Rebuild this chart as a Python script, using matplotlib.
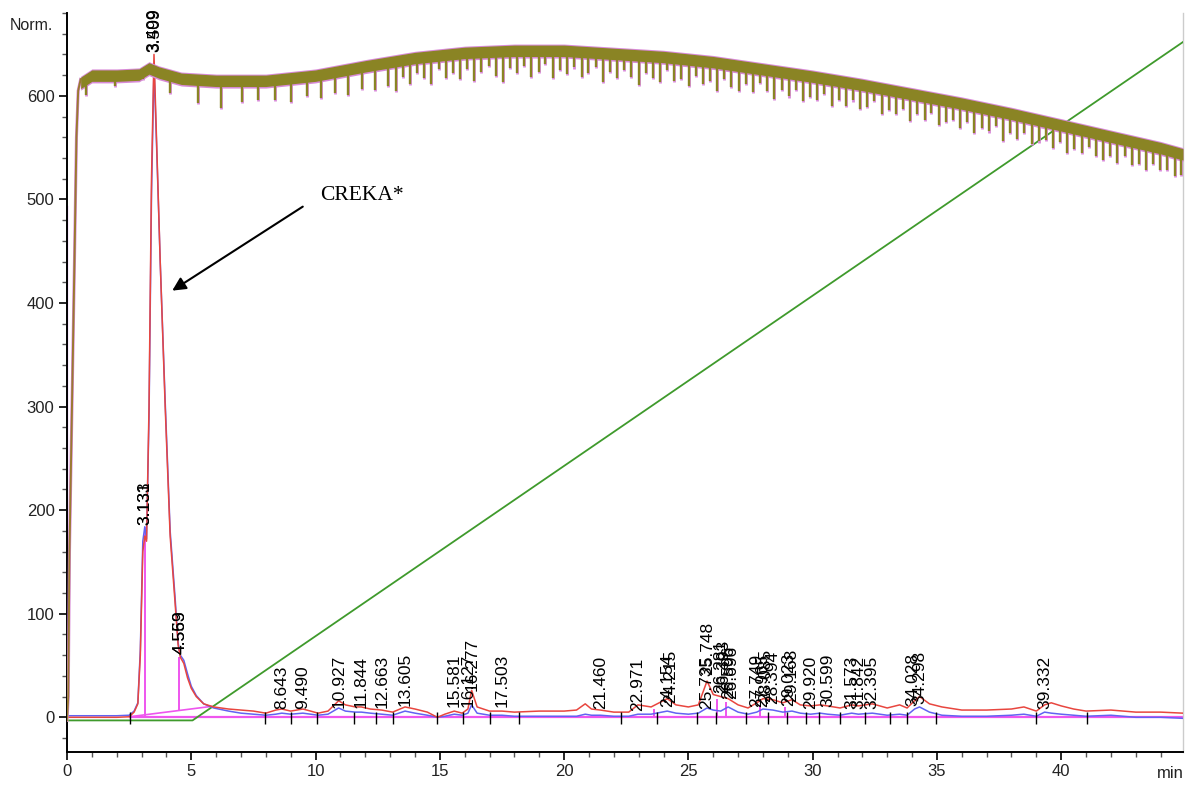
import numpy as np
import matplotlib
matplotlib.use("Agg")
import matplotlib.pyplot as plt
from matplotlib.ticker import MultipleLocator

# ---------------- data ----------------
signal_time = [0.0, 1.0, 2.0, 2.5, 2.7, 2.85, 2.95, 3.05, 3.13, 3.2,
               3.3, 3.4, 3.5, 3.6, 3.75, 3.95, 4.15, 4.35, 4.47, 4.56,
               4.7, 4.85, 5.0, 5.2, 5.5, 5.9, 6.5, 7.0, 7.5, 8.0,
               8.4, 8.64, 9.0, 9.49, 9.8, 10.1, 10.5, 10.93, 11.2, 11.6,
               11.84, 12.2, 12.66, 13.1, 13.6, 14.0, 14.5, 14.9, 15.2, 15.58,
               15.9, 16.13, 16.28, 16.5, 17.0, 17.5, 18.0, 19.0, 20.0, 20.5,
               20.85, 21.1, 21.46, 22.0, 22.6, 22.97, 23.5, 24.15, 24.5, 25.0,
               25.4, 25.75, 26.0, 26.3, 26.6, 27.0, 27.4, 27.75, 28.0, 28.4,
               28.8, 29.17, 29.5, 29.92, 30.3, 30.6, 31.1, 31.57, 31.84, 32.4,
               33.0, 33.5, 33.8, 34.1, 34.3, 34.7, 35.2, 36.0, 37.0, 38.0,
               38.5, 39.0, 39.33, 39.6, 40.0, 40.5, 41.0, 42.0, 43.0, 44.0,
               44.9]
red_signal = [0, 0, 0, 0.5, 5, 13, 60, 160, 175, 170,
              300, 520, 640, 560, 440, 300, 175, 110, 70, 58,
              52, 38, 28, 20, 13, 10, 8, 7, 6, 4,
              7, 8, 6, 8, 6, 4, 6, 16, 12, 10,
              10, 8, 7, 5, 10, 8, 5, 0, 3, 6,
              4, 8, 26, 10, 6, 6, 5, 6, 6, 7,
              13, 8, 7, 5, 5, 12, 10, 18, 12, 10,
              12, 35, 22, 20, 18, 12, 9, 14, 18, 17,
              14, 17, 12, 11, 12, 11, 9, 12, 11, 13,
              9, 12, 9, 16, 20, 13, 10, 7, 7, 8,
              10, 6, 12, 14, 11, 8, 6, 7, 5, 5,
              4]
blue_signal = [1.5, 1.5, 1.5, 2, 6, 14, 65, 170, 184, 172,
               290, 505, 628, 555, 440, 305, 180, 115, 72, 60,
               55, 42, 30, 21, 13, 9, 6, 4, 3, 2,
               3, 4, 3, 4, 3, 2, 3, 9, 6, 5,
               5, 4, 3, 2, 6, 4, 2, 0, 1, 3,
               2, 4, 12, 4, 2, 2, 1, 1, 1, 1,
               3, 2, 2, 1, 1, 3, 3, 6, 4, 3,
               4, 9, 7, 6, 10, 5, 3, 5, 8, 7,
               5, 6, 4, 3, 4, 3, 2, 4, 3, 4,
               2, 3, 2, 8, 10, 5, 2, 1, 1, 2,
               3, 1, 5, 4, 3, 2, 1, 2, 0, 0,
               -1]

# gradient (green)
gradient_time = [0.0, 5.05, 44.9]
gradient_value = [-3, -3, 652]

# pressure-like trace (olive): start-up, band top envelope, periodic dips
rise_time = [0.0, 0.05, 0.1, 0.2, 0.3, 0.38, 0.45, 0.55]
rise_value = [-3, 20, 160, 300, 440, 560, 605, 616]
envelope_time = [0.55, 1.0, 2.0, 2.9, 3.3, 3.7, 4.6, 6.0, 8.0, 10.0, 12.0, 14.0,
                 16.0, 18.0, 20.0, 22.0, 24.0, 26.0, 28.0, 30.0, 32.0, 34.0,
                 36.0, 38.0, 40.0, 42.0, 44.0, 44.9]
envelope_value = [618, 625, 625, 626, 632, 628, 622, 620, 620, 625, 634, 642,
                  647, 649, 649, 646, 643, 638, 631, 624, 616, 607,
                  598, 588, 577, 566, 555, 549]
dip_time = [0.76, 1.93, 3.07, 4.14, 5.28, 6.2, 7.04, 7.7, 8.37, 9.0,
            9.65, 10.2, 10.8, 11.3, 11.85, 12.4, 12.9,
            13.22, 13.50, 13.79, 14.08, 14.36, 14.65, 14.95, 15.23, 15.52, 15.80,
            16.10, 16.38, 16.67, 16.96, 17.24, 17.53, 17.82, 18.10, 18.40, 18.68,
            18.97, 19.25, 19.55, 19.83, 20.12, 20.41, 20.70, 20.98, 21.27, 21.56,
            21.85, 22.13, 22.42, 22.71, 23.00, 23.28, 23.57, 23.86, 24.15, 24.43,
            24.72, 25.01, 25.30, 25.58, 25.87, 26.16, 26.45, 26.73, 27.02, 27.31,
            27.60, 27.88, 28.17, 28.46, 28.75, 29.03, 29.32, 29.61, 29.90, 30.18,
            30.47, 30.76, 31.05, 31.33, 31.62, 31.91, 32.20, 32.48, 32.77, 33.06,
            33.35, 33.63, 33.92, 34.21, 34.50, 34.78, 35.07, 35.36, 35.65, 35.93,
            36.22, 36.51, 36.80, 37.08, 37.37, 37.66, 37.95, 38.23, 38.52, 38.81,
            39.10, 39.38, 39.67, 39.96, 40.25, 40.53, 40.82, 41.11, 41.40, 41.68,
            41.97, 42.26, 42.55, 42.83, 43.12, 43.41, 43.70, 43.98, 44.27, 44.56,
            44.82]
dip_depth = [20, 15, 12, 22, 28, 32, 26, 24, 25, 28,
             24, 28, 26, 30, 27, 30, 28,
             34, 22, 30, 20, 26, 32, 18, 28, 24, 30,
             21, 33, 25, 19, 29, 35, 22, 27, 20, 31,
             26, 18, 32, 24, 28, 21, 30, 25, 19, 33,
             23, 29, 20, 27, 34, 22, 26, 30, 18, 28,
             25, 31, 21, 28, 24, 33, 20, 27, 30, 22,
             29, 19, 26, 32, 23, 28, 21, 30, 25, 27,
             20, 31, 24, 28, 22, 29, 26, 19, 30, 25,
             27, 21, 32, 24, 28, 20, 30, 26, 23, 29,
             22, 31, 25, 27, 20, 33, 24, 28, 21, 30,
             26, 23, 29, 22, 31, 25, 28, 20, 27, 30,
             24, 29, 21, 28, 26, 30, 22, 27, 25, 29,
             26]

# integration marks
baseline_start = [2.54, 0.6]
baseline_end = [5.8, 10.5]
drop_time = [3.13, 4.5, 23.6, 26.15, 26.5, 27.9, 28.9]
drop_top = [184, 58, 8, 18, 15, 12, 10]
drop_bottom = [1.5, 6, 0, 0, 0, 0, 0]
tick_time = [2.54, 7.97, 9.0, 10.05, 11.55, 12.43, 13.13, 14.9, 15.94, 17.0,
             18.2, 22.3, 23.75, 25.33, 26.13, 27.3, 28.2, 28.96, 29.75, 30.26,
             31.1, 32.1, 33.1, 33.8, 34.96, 38.98, 41.05]

# peak labels
peak_labels = ["3.499", "3.509", "3.131", "3.133", "4.559", "4.563",
               "8.643", "9.490", "10.927", "11.844", "12.663", "13.605",
               "15.581", "16.127", "16.277", "17.503", "21.460", "22.971",
               "24.154", "24.215", "25.735", "25.748", "26.281", "26.393",
               "26.596", "26.696", "27.749", "27.965", "28.085", "28.394",
               "29.023", "29.168", "29.920", "30.599", "31.573", "31.842",
               "32.395", "34.028", "34.298", "39.332"]
label_time = [3.49, 3.52, 3.12, 3.15, 4.54, 4.57,
              8.64, 9.49, 10.93, 11.84, 12.66, 13.6,
              15.58, 16.12, 16.28, 17.5, 21.46, 22.97,
              24.15, 24.3, 25.72, 25.78, 26.3, 26.42,
              26.6, 26.72, 27.75, 27.97, 28.09, 28.39,
              29.02, 29.17, 29.92, 30.6, 31.57, 31.84,
              32.4, 34.05, 34.3, 39.33]
label_height = [641, 641, 185, 185, 60, 60,
                7, 7, 8, 8, 8, 10,
                9, 9, 24, 9, 7, 5,
                9, 13, 7, 40, 22, 22,
                17, 17, 9, 9, 14, 12,
                10, 14, 7, 9, 7, 7,
                7, 10, 12, 7]

# ---------------- drawing ----------------
RED = "#e8463f"
BLUE = "#6262f2"
MAGENTA = "#ee55ee"
GREEN = "#3f9a2c"
OLIVE = "#8a8424"
PINK = "#d88ad8"

fig = plt.figure(figsize=(11.93, 7.85), dpi=100)
ax = fig.add_axes([67 / 1193, 33 / 785, (1183 - 67) / 1193, (752 - 13) / 785])
ax.set_xlim(0, 44.9)
ax.set_ylim(-33.5, 680)

# magenta baselines / drop lines
ax.plot([2.54, 44.9], [0.5, 0.5], color=MAGENTA, lw=1.6, zorder=2)
ax.plot([baseline_start[0], baseline_end[0]], [baseline_start[1], baseline_end[1]],
        color=MAGENTA, lw=1.2, zorder=2)
ax.vlines(drop_time, drop_bottom, drop_top, color=MAGENTA, lw=1.4, zorder=2)
ax.plot([0.0, 0.0], [0, 493], color="#bb44dd", lw=1.6, zorder=2)

# gradient
ax.plot(gradient_time, gradient_value, color=GREEN, lw=1.3, zorder=3)

# signals
ax.plot(signal_time, blue_signal, color=BLUE, lw=1.1, zorder=4)
ax.plot(signal_time, red_signal, color=RED, lw=1.1, zorder=5)

# olive trace with its pink shadow
env_t = np.array(envelope_time)
env_v = np.array(envelope_value)
ax.plot(rise_time, rise_value, color=PINK, lw=2.2, zorder=6)
ax.plot(rise_time, rise_value, color="#9a7a30", lw=1.4, zorder=7)
ax.fill_between(env_t, env_v + 1.0, env_v - 12.5, color=PINK, lw=0, zorder=6)
ax.fill_between(env_t, env_v, env_v - 11, color=OLIVE, lw=0, zorder=7)
dip_top = np.interp(dip_time, env_t, env_v) - 5
dip_bot = dip_top + 5 - np.array(dip_depth)
ax.vlines(dip_time, dip_bot - 1.0, dip_top, color=PINK, lw=2.0, zorder=6)
ax.vlines(dip_time, dip_bot, dip_top, color=OLIVE, lw=1.7, zorder=7)

# integration tick marks
ax.vlines(tick_time, -6, 5, color="black", lw=1.0, zorder=8)

# peak labels
for s, t, h in zip(peak_labels, label_time, label_height):
    ax.text(t, h + 1, s, rotation=90, ha="center", va="bottom",
            fontsize=12.5, family="Liberation Sans", color="black", zorder=9)

# annotation
ax.text(10.2, 504, "CREKA*", family="Liberation Serif", fontsize=15.5,
        ha="left", va="center", color="black")
ax.annotate("", xy=(4.14, 410.5), xytext=(9.58, 494.5),
            arrowprops=dict(arrowstyle="-|>", color="black", lw=1.5,
                            mutation_scale=20))

# axes styling
ax.spines["top"].set_visible(False)
ax.spines["right"].set_color("#cccccc")
ax.spines["right"].set_linewidth(1.0)
ax.spines["left"].set_linewidth(1.4)
ax.spines["bottom"].set_linewidth(1.4)
ax.xaxis.set_major_locator(MultipleLocator(5))
ax.xaxis.set_minor_locator(MultipleLocator(1))
ax.yaxis.set_major_locator(MultipleLocator(100))
ax.yaxis.set_minor_locator(MultipleLocator(20))
ax.tick_params(which="major", direction="out", length=6, width=1.2,
               labelsize=12, labelcolor="#222222", pad=3)
ax.tick_params(which="minor", direction="out", length=3.5, width=1.0,
               color="#555555")
for lab in ax.get_xticklabels() + ax.get_yticklabels():
    lab.set_family("Liberation Sans")

fig.text(10 / 1193, 1 - 25 / 785, "Norm.", fontsize=11.5, family="Liberation Sans",
         ha="left", va="center", color="#222222")
fig.text(1157 / 1193, 1 - 773 / 785, "min", fontsize=12, family="Liberation Sans",
         ha="left", va="center", color="#222222")

fig.savefig("out.png", dpi=100)
